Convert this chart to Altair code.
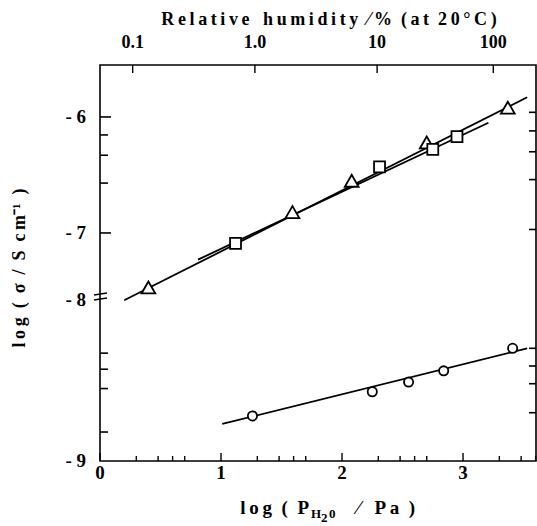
import altair as alt
import pandas as pd

# ---- data ----
tri_x = [0.40, 1.59, 2.08, 2.70, 3.37]
tri_v = [-7.47, -6.82, -6.55, -6.22, -5.92]
sq_x = [1.12, 2.31, 2.75, 2.95]
sq_v = [-7.09, -6.43, -6.28, -6.17]
cir_x = [1.26, 2.25, 2.55, 2.84, 3.41]
cir_v = [-8.72, -8.57, -8.51, -8.44, -8.30]

fit_tri_x = [0.20, 3.53]
fit_tri_v = [-7.58, -5.83]
fit_sq_x = [0.81, 3.21]
fit_sq_v = [-7.23, -6.05]
fit_cir_x = [1.01, 3.53]
fit_cir_v = [-8.77, -8.30]

# axis ticks and labels
x_major = [0, 1, 2, 3]
x_labels = ["0", "1", "2", "3"]
x_minor = [0.30, 0.48, 0.60, 0.70, 1.30, 1.48, 1.60, 1.70,
           2.30, 2.48, 2.60, 2.70, 3.30, 3.48, 3.60]
rh_pos = [0.27, 1.28, 2.29, 3.25]
rh_lab = ["0.1", "1.0", "10", "100"]
left_major_v = [-6, -7]
left_minor_upper = [-6.155, -6.33, -6.57]
left_minor_lower = [-8.33, -8.43, -8.55, -8.82]
right_upper = [-5.96, -6.12, -6.30, -6.54, -6.97]
right_lower = [-8.30, -8.41, -8.52, -8.70]
y_label_v = [-6, -7, -8, -9]
y_label_seg = ["upper", "upper", "lower", "lower"]
y_labels = ["- 6", "- 7", "- 8", "- 9"]

# axis break: upper segment is linear in log sigma; lower segment (-9..-8) is stretched
BREAK_D = -7.578
LOWER_K = 1.388
D_MIN, D_MAX = -8.966, -5.552
X_MAX = 3.603

calc = f"datum.seg == 'lower' ? {BREAK_D} + (datum.v + 8) * {LOWER_K} : datum.v"

FONT = "Liberation Serif"
xs = alt.Scale(domain=[0, X_MAX], nice=False, zero=False)
ys = alt.Scale(domain=[D_MIN, D_MAX], nice=False, zero=False)
TS = "\u2009"   # thin space (letter spacing)
NB = "\u00a0"   # no-break space (word gaps)


def spaced(s):
    return TS.join(list(s))


def df_points(xv, vv, seg):
    return pd.DataFrame({"x": xv, "v": vv, "seg": [seg] * len(xv)})


def line_layer(xv, vv, seg):
    return alt.Chart(df_points(xv, vv, seg)).transform_calculate(d=calc).mark_line(
        color="black", strokeWidth=1.8
    ).encode(x=alt.X("x:Q", scale=xs, axis=None), y=alt.Y("d:Q", scale=ys, axis=None))


def point_layer(xv, vv, seg, shape, size):
    return alt.Chart(df_points(xv, vv, seg)).transform_calculate(d=calc).mark_point(
        shape=shape, size=size, filled=True, fill="white", stroke="black",
        strokeWidth=1.8, opacity=1
    ).encode(x=alt.X("x:Q", scale=xs, axis=None), y=alt.Y("d:Q", scale=ys, axis=None))


def hticks(vals, seg, x0, x1):
    return alt.Chart(pd.DataFrame({"v": vals, "seg": [seg] * len(vals)})).transform_calculate(
        d=calc).mark_rule(color="black", strokeWidth=1.6).encode(
        y=alt.Y("d:Q", scale=ys, axis=None), x=alt.value(x0), x2=alt.value(x1))


def vticks(vals, y0, y1):
    return alt.Chart(pd.DataFrame({"x": vals})).mark_rule(color="black", strokeWidth=1.4).encode(
        x=alt.X("x:Q", scale=xs, axis=None), y=alt.value(y0), y2=alt.value(y1))


ticks = [
    hticks(left_major_v, "upper", 0, 11),
    hticks(left_minor_upper, "upper", 0, 8),
    hticks(left_minor_lower, "lower", 0, 8),
    hticks(right_upper, "upper", 436, 429),
    hticks(right_lower, "lower", 436, 429),
    vticks(x_major, 396, 388),
    vticks(x_minor, 396, 391),
    vticks(rh_pos, 0, 8),
]

# break marks on the left axis
brk = alt.Chart(pd.DataFrame({"y0": [230, 235], "y1": [228, 233]})).mark_rule(
    color="black", strokeWidth=1.4
).encode(x=alt.value(-6), x2=alt.value(7), y=alt.Y("y0:Q", scale=None), y2="y1:Q")

# tick labels as text
top_lab = alt.Chart(pd.DataFrame({"x": rh_pos, "t": rh_lab})).mark_text(
    font=FONT, fontWeight="bold", fontSize=18, baseline="middle", color="black"
).encode(x=alt.X("x:Q", scale=xs, axis=None), y=alt.value(-22), text="t:N")

bot_lab = alt.Chart(pd.DataFrame({"x": x_major, "t": x_labels})).mark_text(
    font=FONT, fontWeight="bold", fontSize=19, baseline="middle", color="black"
).encode(x=alt.X("x:Q", scale=xs, axis=None), y=alt.value(408), text="t:N")

left_lab = alt.Chart(pd.DataFrame({"v": y_label_v, "seg": y_label_seg, "t": y_labels})
                     ).transform_calculate(d=calc).mark_text(
    font=FONT, fontWeight="bold", fontSize=19, baseline="middle", align="right",
    color="black"
).encode(y=alt.Y("d:Q", scale=ys, axis=None), x=alt.value(-14), text="t:N")

one = pd.DataFrame({"a": [0]})


def txt(s, x, y, size=18, align="center", baseline="alphabetic", angle=0):
    kw = dict(font=FONT, fontWeight="bold", fontSize=size, align=align, baseline=baseline,
              color="black")
    if angle:
        kw["angle"] = angle
    return alt.Chart(one).mark_text(**kw).encode(
        x=alt.value(x), y=alt.value(y), text=alt.value(s))


top_title = (spaced("Relative") + NB * 3 + spaced("humidity") + NB * 2 + "⁄" + TS + "%" +
             NB * 2 + spaced("(at") + NB * 2 + spaced("20°C)"))
y_title = (spaced("log") + NB * 2 + "(" + NB * 2 + "σ" + NB * 2 + "/" + NB * 2 + "S" + NB * 2 +
           spaced("cm") + "⁻¹" + NB * 2 + ")")

titles = [
    txt(top_title, 229, -45, size=18, baseline="middle"),
    txt(spaced("log") + NB * 2 + "(" + NB * 2 + "P", 209, 449, size=19, align="right"),
    txt("H", 211, 453, size=13, align="left"),
    txt("2", 221, 457, size=13, align="left"),
    txt("0", 229, 453, size=13, align="left"),
    txt("⁄" + NB * 3 + "P" + TS + "a" + NB * 2 + ")", 257, 449, size=19, align="left"),
    txt(y_title, -80, 203, size=18, baseline="middle", angle=270),
]

layers = ticks + [
    brk,
    line_layer(fit_tri_x, fit_tri_v, "upper"),
    line_layer(fit_sq_x, fit_sq_v, "upper"),
    line_layer(fit_cir_x, fit_cir_v, "lower"),
    point_layer(tri_x, tri_v, "upper", "triangle-up", 190),
    point_layer(sq_x, sq_v, "upper", "square", 120),
    point_layer(cir_x, cir_v, "lower", "circle", 85),
    top_lab, bot_lab, left_lab,
] + titles

chart = alt.layer(*layers).properties(
    width=436, height=396,
    padding={"left": 100, "top": 65, "right": 1, "bottom": 65},
    autosize="none", background="white",
).configure_view(stroke="black", strokeWidth=1.6)

chart.save("out.html", embed_options={"renderer": "svg", "actions": False})
